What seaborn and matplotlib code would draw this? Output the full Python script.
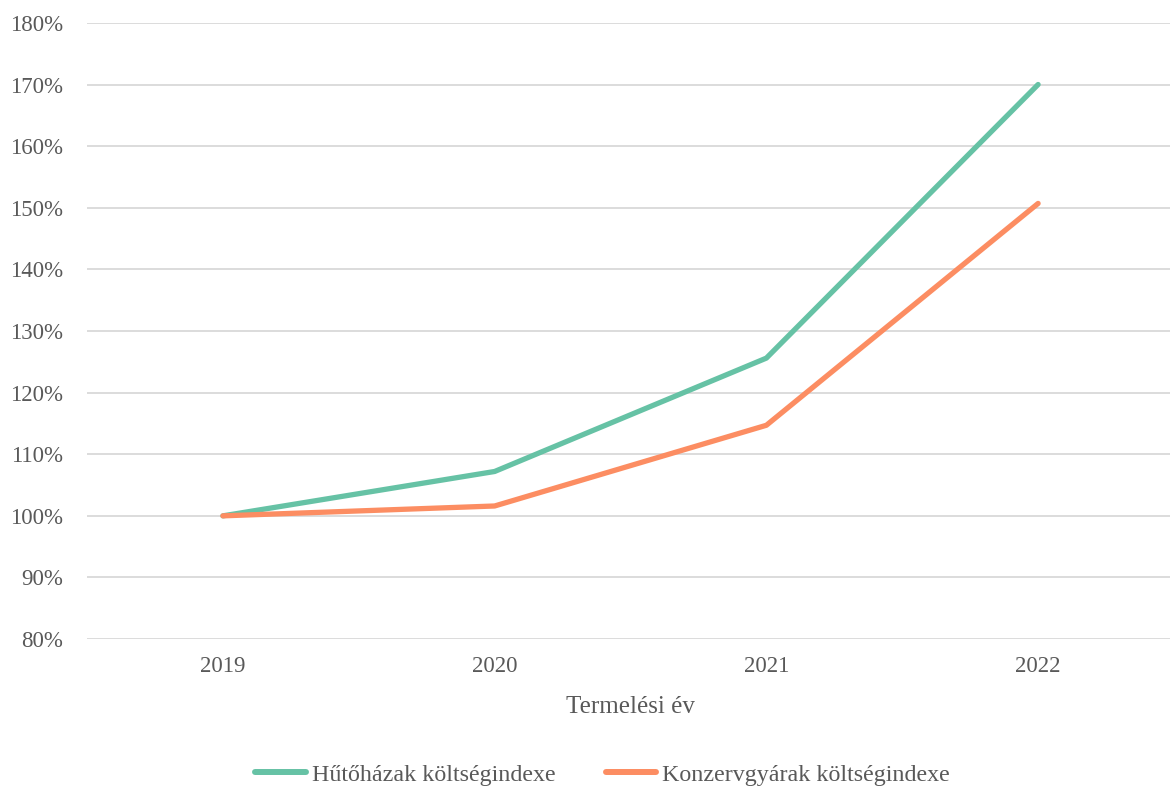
import pandas as pd
import matplotlib
matplotlib.use("Agg")
import matplotlib.pyplot as plt
import seaborn as sns
from matplotlib.ticker import FuncFormatter

years = ["2019", "2020", "2021", "2022"]
hutohazak = [100.0, 107.2, 125.6, 170.0]
konzervgyarak = [100.0, 101.6, 114.7, 150.7]
series_names = ["Hűtőházak költségindexe", "Konzervgyárak költségindexe"]
colors = ["#66c2a5", "#fc8d62"]

df = pd.DataFrame({
    "year": years * 2,
    "value": hutohazak + konzervgyarak,
    "series": [series_names[0]] * 4 + [series_names[1]] * 4,
})
df["pos"] = [0, 1, 2, 3] * 2

sns.set_style("white")
plt.rcParams["font.family"] = ["Liberation Serif", "DejaVu Serif"]
text_color = "#595959"

fig = plt.figure(figsize=(11.7, 7.89), dpi=100)
ax = fig.add_axes([0.0744, 0.190, 0.929, 0.781])

sns.lineplot(data=df, x="pos", y="value", hue="series", palette=colors,
             linewidth=3.8, ax=ax, legend=False, sort=False,
             solid_capstyle="round")

ax.set_xlim(-0.5, 3.5)
ax.set_ylim(80, 180)
ax.set_yticks(range(80, 181, 10))
ax.yaxis.set_major_formatter(FuncFormatter(lambda v, p: f"{int(v)}%"))
ax.set_xticks(range(len(years)))
ax.set_xticklabels(years)
ax.grid(axis="y", color="#d9d9d9", linewidth=1.3)
ax.set_axisbelow(True)
for s in ax.spines.values():
    s.set_visible(False)
ax.tick_params(axis="both", length=0, labelsize=16.5, colors=text_color)
ax.tick_params(axis="x", pad=12)
ax.tick_params(axis="y", pad=17)
ax.set_xlabel("Termelési év", fontsize=18, color=text_color, labelpad=14)
ax.set_ylabel("")

handles = [plt.Line2D([], [], color=c, linewidth=4.3, solid_capstyle="round") for c in colors]
leg = fig.legend(handles, series_names, loc="center", bbox_to_anchor=(0.515, 0.018),
                 ncol=2, frameon=False, fontsize=17.3, handlelength=2.1,
                 handletextpad=0.25, columnspacing=2.1)
for t in leg.get_texts():
    t.set_color(text_color)

fig.savefig("out.png", dpi=100)
